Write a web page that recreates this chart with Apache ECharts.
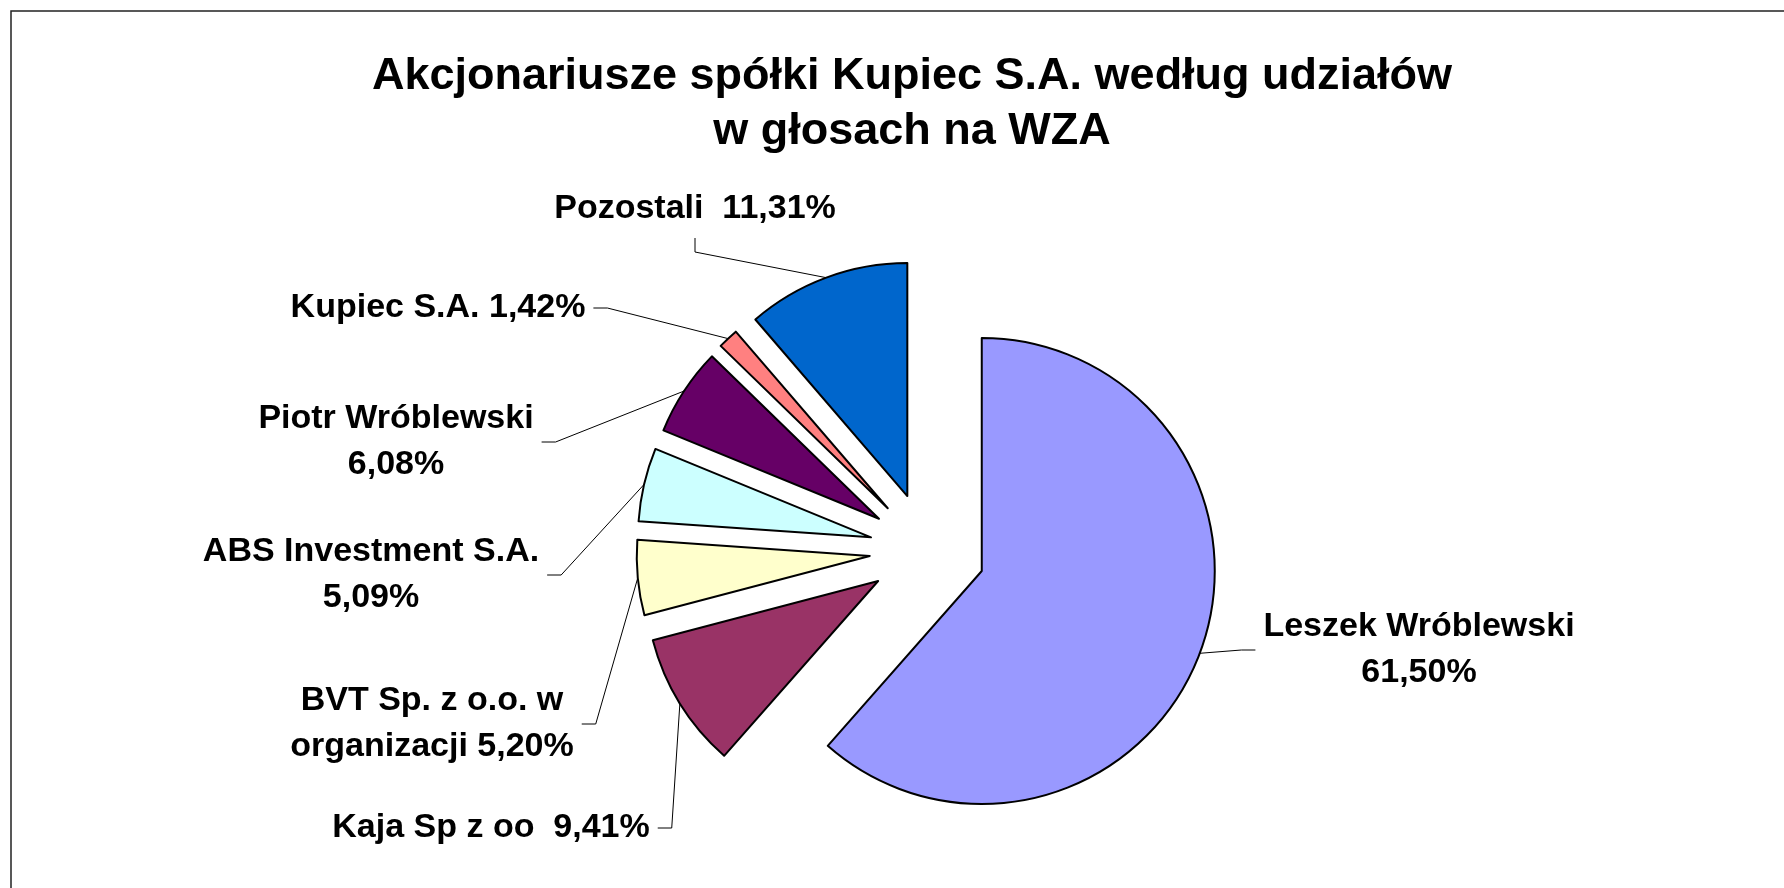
<!DOCTYPE html>
<html>
<head>
<meta charset="utf-8">
<title>Akcjonariusze spółki Kupiec S.A.</title>
<script src="https://cdn.jsdelivr.net/npm/echarts@6/dist/echarts.min.js"></script>
<style>
  html, body { margin: 0; padding: 0; background: #fff; }
  #chart { width: 1784px; height: 888px; }
</style>
</head>
<body>
<div id="chart"></div>
<script>
// shareholders, clockwise from 12 o'clock
const names = [
  'Leszek Wróblewski',
  'Kaja Sp z oo',
  'BVT Sp. z o.o. w\norganizacji',
  'ABS Investment S.A.',
  'Piotr Wróblewski',
  'Kupiec S.A.',
  'Pozostali'
];
const shares = [61.50, 9.41, 5.20, 5.09, 6.08, 1.42, 11.31];
// what goes between name and percentage in each label
const labelSeps = ['\n', '  ', ' ', '\n', '\n', ' ', '  '];

const colors = ['#9999FF', '#993366', '#FFFFCC', '#CCFFFF', '#660066', '#FF8080', '#0066CC'];
// label centres in px and the side the leader line leaves from
const labelPos = [
  [1419, 650],
  [491, 828],
  [432, 724],
  [371, 575],
  [396, 442],
  [438, 308],
  [695, 209]
];
const labelSide = ['left', 'right', 'right', 'right', 'right', 'right', 'bottom'];

const fontFamily = 'Arial, "Liberation Sans", sans-serif';
const labelFont = 'bold 34px ' + fontFamily;
const labelLineH = 46;
const OFFSET = 58;
const fmt = v => v.toFixed(2).replace('.', ',') + '%';

const chart = echarts.init(document.getElementById('chart'));
chart.setOption({
  backgroundColor: '#fff',
  animation: false,
  title: {
    text: 'Akcjonariusze spółki Kupiec S.A. według udziałów\nw głosach na WZA',
    left: 907,
    top: 44,
    textAlign: 'center',
    textStyle: {
      fontFamily: fontFamily,
      fontWeight: 'bold',
      fontSize: 45,
      lineHeight: 55,
      color: '#000'
    }
  },
  series: [{
    type: 'pie',
    center: [927.5, 550.5],
    radius: 233,
    startAngle: 90,
    clockwise: true,
    selectedMode: 'multiple',
    selectedOffset: OFFSET,
    emphasis: { disabled: true },
    itemStyle: { borderColor: '#000', borderWidth: 2 },
    label: { show: false },
    labelLine: { show: false },
    data: names.map((n, i) => ({
      name: n,
      value: shares[i],
      selected: true,
      itemStyle: { color: colors[i] }
    }))
  }]
});

// labels + leader lines, anchored at the mid-angle point of each exploded slice
const ctx = document.createElement('canvas').getContext('2d');
ctx.font = labelFont;
const pieData = chart.getModel().getSeriesByIndex(0).getData();
const graphics = [{
  type: 'rect',
  shape: { x: 11, y: 11, width: 1900, height: 1000 },
  style: { fill: 'none', stroke: '#222', lineWidth: 1.5 },
  silent: true
}];

names.forEach((n, i) => {
  const text = n + labelSeps[i] + fmt(shares[i]);
  const lines = text.split('\n');
  const w = Math.max(...lines.map(l => ctx.measureText(l).width));
  const h = lines.length * labelLineH;
  const [lx, ly] = labelPos[i];

  const lay = pieData.getItemLayout(i);
  const mid = (lay.startAngle + lay.endAngle) / 2;
  const cx = lay.cx + Math.cos(mid) * OFFSET;
  const cy = lay.cy + Math.sin(mid) * OFFSET;
  const anchor = [cx + Math.cos(mid) * lay.r, cy + Math.sin(mid) * lay.r];

  let start, elbow;
  if (labelSide[i] === 'left') {
    start = [lx - w / 2 - 8, ly];
    elbow = [start[0] - 14, ly];
  } else if (labelSide[i] === 'right') {
    start = [lx + w / 2 + 8, ly];
    elbow = [start[0] + 14, ly];
  } else {
    start = [lx, ly + h / 2 + 6];
    elbow = [lx, start[1] + 14];
  }

  graphics.push({
    type: 'polyline',
    shape: { points: [start, elbow, anchor] },
    style: { stroke: '#000', lineWidth: 1, fill: null },
    silent: true
  });
  graphics.push({
    type: 'text',
    x: lx,
    y: ly,
    style: {
      text: text,
      font: labelFont,
      lineHeight: labelLineH,
      fill: '#000',
      align: 'center',
      verticalAlign: 'middle'
    },
    silent: true
  });
});

chart.setOption({ graphic: graphics });
</script>
</body>
</html>
